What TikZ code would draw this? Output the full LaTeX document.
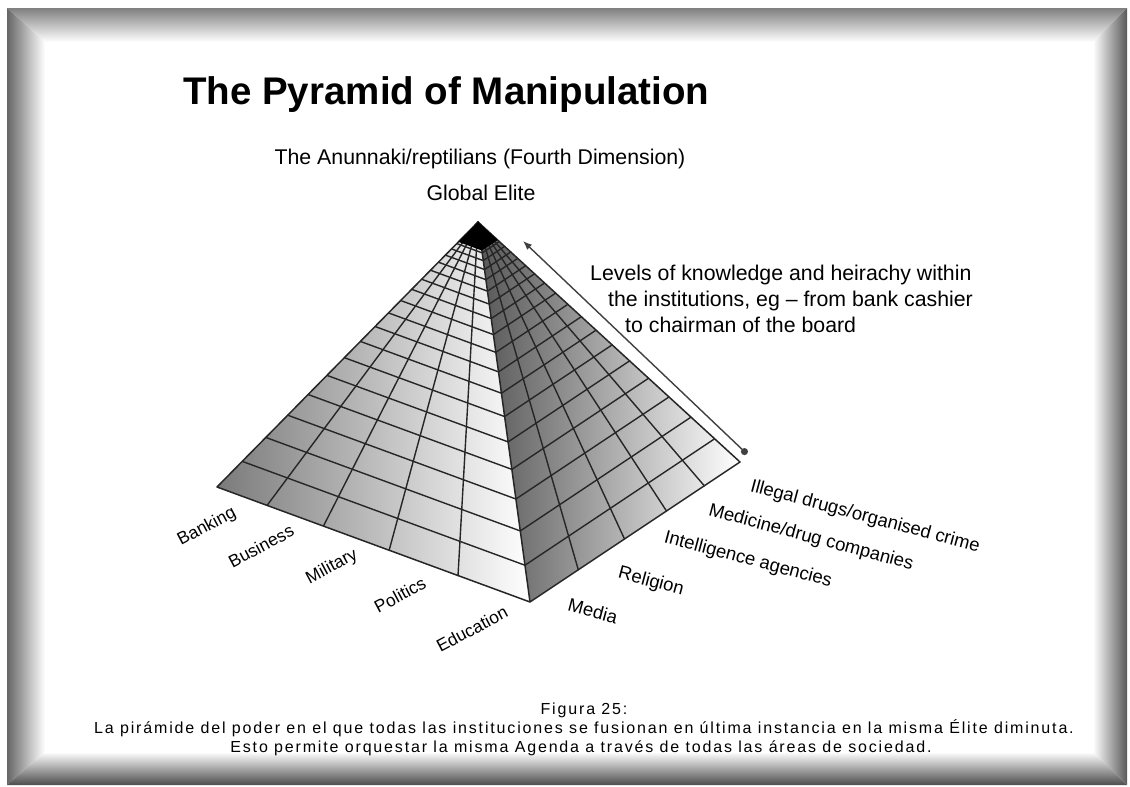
\documentclass[tikz,border=0pt]{standalone}
\usepackage{fontspec}
\setmainfont{Liberation Sans}
\newfontfamily\titlefont{Liberation Sans}
\newfontfamily\capfont{Liberation Sans}[LetterSpace=11.5]
\usepackage{tikz}
\usetikzlibrary{arrows.meta,calc}

\begin{document}
\begin{tikzpicture}[x=1pt, y=-1pt,
    % Stili comuni per la piramide, le etichette e la cornice.
    grid/.style={draw=black!85, line width=1.4pt, line cap=round},
    ridge/.style={draw=black!85, line width=1.5pt, line join=round},
    heading/.style={font=\titlefont\bfseries\fontsize{38.5}{40}\selectfont, inner sep=0pt},
    note/.style={font=\fontsize{21.3}{24}\selectfont, inner sep=0pt},
    sector/.style={font=\fontsize{17.5}{20}\selectfont, inner sep=0pt},
    wide sector/.style={font=\fontsize{18.5}{20}\selectfont, inner sep=0pt},
    capline/.style={font=\capfont\fontsize{16}{18}\selectfont, inner sep=0pt},
    levels arrow/.style={draw=black!75, line width=1.4pt,
        {Latex[length=9pt,width=7pt]}-{Circle[length=7pt]}}
]
\useasboundingbox (0,0) rectangle (1130,787);

% Cornice a rilievo: quattro trapezi sfumati.
\coordinate (o1) at (7,8);
\coordinate (o2) at (1127,8);
\coordinate (o3) at (1127,785);
\coordinate (o4) at (7,785);
\coordinate (i1) at (45,42);
\coordinate (i2) at (1093,42);
\coordinate (i3) at (1093,752);
\coordinate (i4) at (45,752);
\shade[top color=black!50, bottom color=white] (o1) -- (o2) -- (i2) -- (i1) -- cycle;
\shade[left color=black!60, right color=white] (o1) -- (i1) -- (i4) -- (o4) -- cycle;
\shade[left color=white, right color=black!65] (o2) -- (o3) -- (i3) -- (i2) -- cycle;
\shade[top color=white, bottom color=black!70] (i4) -- (i3) -- (o3) -- (o4) -- cycle;

% Vertici della piramide.
\coordinate (apex)  at (478,222);
\coordinate (left)  at (217,487);
\coordinate (front) at (530,602);
\coordinate (right) at (740,462);

% Facce sfumate.
\shade[left color=black!52, right color=white] (apex) -- (left) -- (front) -- cycle;
\shade[left color=black!66, right color=white] (apex) -- (front) -- (right) -- cycle;

% Livelli: righe sempre piu' fitte verso la cima.
\foreach \k in {6,...,29}{
    \pgfmathsetmacro{\s}{(\k/30)^3}
    \draw[grid] ($(apex)!\s!(left)$) -- ($(apex)!\s!(front)$) -- ($(apex)!\s!(right)$);
}
% Colonne: una per istituzione.
\foreach \t in {0.16,0.34,0.55,0.77}
    \draw[grid] (apex) -- ($(left)!\t!(front)$);
\foreach \t in {0.23,0.45,0.65,0.83}
    \draw[grid] (apex) -- ($(front)!\t!(right)$);

% Spigoli e vertice nero.
\draw[ridge] (left) -- (apex) -- (right) -- (front) -- cycle;
\draw[ridge] (apex) -- (front);
\fill[black] (apex) -- ($(apex)!0.075!(left)$) -- ($(apex)!0.075!(front)$)
    -- ($(apex)!0.075!(right)$) -- cycle;

% Titolo e testi in alto.
\node[heading, anchor=base west] (title) at (183,104) {The Pyramid of Manipulation};
\node[note, anchor=base] (anunnaki) at (480,164) {The Anunnaki/reptilians (Fourth Dimension)};
\node[note, anchor=base] (elite) at (481,200) {Global Elite};

\node[note, anchor=base west] (levelsA) at (590,280) {Levels of knowledge and heirachy within};
\node[note, anchor=base west] (levelsB) at (608,306) {the institutions, eg -- from bank cashier};
\node[note, anchor=base west] (levelsC) at (625,332) {to chairman of the board};

% Freccia dei livelli, parallela allo spigolo destro.
\coordinate (arrtop) at (523,241);
\coordinate (arrbot) at (747,454);
\draw[levels arrow] (arrtop) -- (arrbot);

% Istituzioni sulla faccia sinistra.
\node[sector, rotate=28] (banking)   at (207,527) {Banking};
\node[sector, rotate=28] (business)  at (261,546) {Business};
\node[sector, rotate=28] (military)  at (332,567) {Military};
\node[sector, rotate=28] (politics)  at (400,595) {Politics};
\node[sector, rotate=28] (education) at (472,629) {Education};

% Istituzioni sulla faccia destra.
\node[wide sector, rotate=-15] (media)    at (593,611) {Media};
\node[wide sector, rotate=-15] (religion) at (651,582) {Religion};
\node[wide sector, rotate=-15] (intel)    at (748,560) {Intelligence agencies};
\node[wide sector, rotate=-15] (medicine) at (811,538) {Medicine/drug companies};
\node[wide sector, rotate=-15] (illegal)  at (865,517) {Illegal drugs/organised crime};

% Didascalia.
\node[capline, anchor=base] (figura) at (584,714) {Figura 25:};
\node[capline, anchor=base] (capB) at (584,733) {La pirámide del poder en el que todas las instituciones se fusionan en última instancia en la misma Élite diminuta.};
\node[capline, anchor=base] (capC) at (581,752) {Esto permite orquestar la misma Agenda a través de todas las áreas de sociedad.};
\end{tikzpicture}
\end{document}
